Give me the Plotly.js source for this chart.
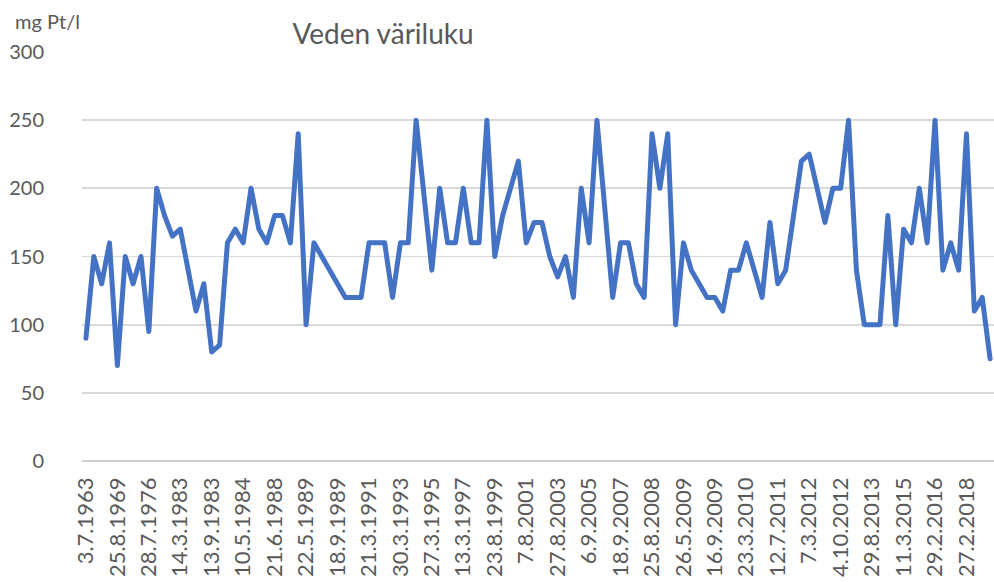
<!DOCTYPE html>
<html>
<head>
<meta charset="utf-8">
<script src="https://cdn.plot.ly/plotly-3.0.1.min.js"></script>
<style>html,body{margin:0;padding:0;background:#fff;}#chart{width:994px;height:582px;}
.scatterlayer path.js-line{stroke-linejoin:round !important;stroke-linecap:round !important;}</style>
</head>
<body>
<div id="chart"></div>
<script>
// Tick labels shown on the category axis (every 4th observation)
var tickLabels = ["3.7.1963","25.8.1969","28.7.1976","14.3.1983","13.9.1983","10.5.1984",
  "21.6.1988","22.5.1989","18.9.1989","21.3.1991","30.3.1993","27.3.1995","13.3.1997",
  "23.8.1999","7.8.2001","27.8.2003","6.9.2005","18.9.2007","25.8.2008","26.5.2009",
  "16.9.2009","23.3.2010","12.7.2011","7.3.2012","4.10.2012","29.8.2013","11.3.2015",
  "29.2.2016","27.2.2018"];
var labelStep = 4;

// Colour number (mg Pt/l) for each observation, in order
var colourValues = [
  90,150,130,160,70,150,130,150,95,200,
  180,165,170,140,110,130,80,85,160,170,
  160,200,170,160,180,180,160,240,100,160,
  150,140,130,120,120,120,160,160,160,120,
  160,160,250,195,140,200,160,160,200,160,
  160,250,150,180,200,220,160,175,175,150,
  135,150,120,200,160,250,185,120,160,160,
  130,120,240,200,240,100,160,140,130,120,
  120,110,140,140,160,140,120,175,130,140,
  180,220,225,200,175,200,200,250,140,100,
  100,100,180,100,170,160,200,160,250,140,
  160,140,240,110,120,75
];
var yTicks = [0,50,100,150,200,250,300];
var titleText = "Veden väriluku";
var unitText = "mg Pt/l";

var xIdx = colourValues.map(function(_, i){ return i; });
var tickVals = tickLabels.map(function(_, i){ return i * labelStep; });

var trace = {
  x: xIdx,
  y: colourValues,
  type: 'scatter',
  mode: 'lines',
  line: {color: '#4472C4', width: 5, shape: 'linear'},
  hoverinfo: 'skip'
};

var textColor = '#595959';
var layout = {
  width: 994, height: 582,
  margin: {l: 82, r: 0, t: 52, b: 121, pad: 0},
  paper_bgcolor: '#ffffff', plot_bgcolor: '#ffffff',
  showlegend: false,
  font: {family: 'Lato, "Open Sans", sans-serif', color: textColor},
  title: {
    text: titleText,
    font: {family: 'Lato, "Open Sans", sans-serif', size: 28, color: textColor},
    xref: 'container', yref: 'container',
    x: 383/994, y: 1 - 34/582, xanchor: 'center', yanchor: 'middle'
  },
  xaxis: {
    range: [-0.5, colourValues.length - 0.5],
    tickmode: 'array', tickvals: tickVals, ticktext: tickLabels,
    tickangle: -90,
    tickfont: {size: 22, color: textColor},
    showgrid: false, zeroline: false, showline: false,
    ticks: '', ticklabelstandoff: 11,
    fixedrange: true
  },
  yaxis: {
    range: [0, 300],
    tickmode: 'array', tickvals: yTicks,
    tickfont: {size: 20, color: textColor},
    showgrid: true, gridcolor: '#d9d9d9', gridwidth: 1.8,
    zeroline: true, zerolinecolor: '#d0d0d0', zerolinewidth: 2,
    showline: false, ticks: '', ticklabelstandoff: 37,
    fixedrange: true
  },
  annotations: [{
    text: unitText, showarrow: false,
    xref: 'paper', yref: 'paper',
    x: (13 - 82) / 913, xanchor: 'left',
    y: (461 - 21) / 409, yanchor: 'middle',
    font: {size: 20, color: textColor}
  }]
};

Plotly.newPlot('chart', [trace], layout, {displayModeBar: false, staticPlot: true});
</script>
</body>
</html>
